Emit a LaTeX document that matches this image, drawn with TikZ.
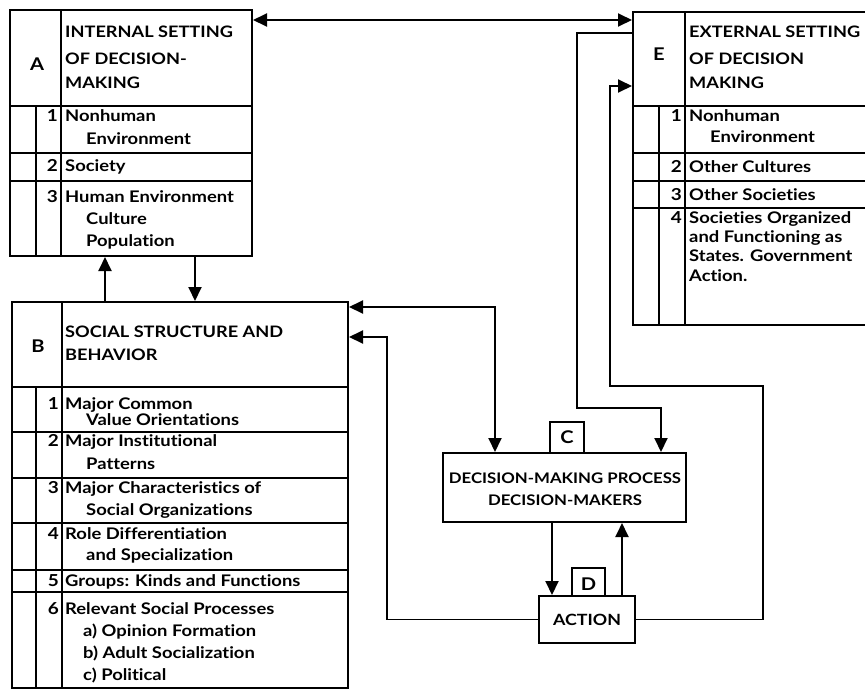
\documentclass[tikz,border=0pt]{standalone}
\usepackage{fontspec}
\setmainfont{Lato}[FakeStretch=1.15, Ligatures={NoCommon}]
\usetikzlibrary{arrows.meta,fit,calc}
\begin{document}
\begin{tikzpicture}[x=1pt,y=-1pt,
  frame/.style={draw, line width=2pt, inner sep=0pt},
  rule/.style={line width=1.6pt},
  conn/.style={line width=1.9pt},
  arr/.style={conn, -{Triangle[length=14pt,width=13pt]}},
  darr/.style={conn, {Triangle[length=14pt,width=13pt]}-{Triangle[length=14pt,width=13pt]}},
  txt/.style={anchor=mid west, yshift=-2.3pt, inner sep=0pt, font=\bfseries\fontsize{16}{18}\selectfont},
  hd/.style={anchor=mid west, yshift=-2.3pt, inner sep=0pt, font=\bfseries\fontsize{15.8}{18}\selectfont},
  num/.style={anchor=mid east, yshift=-2.3pt, inner sep=0pt, font=\bfseries\fontsize{16.5}{18}\selectfont},
  letter/.style={anchor=base, inner sep=0pt, font=\bfseries\fontsize{17.5}{19}\selectfont},
  ctr/.style={anchor=base, inner sep=0pt, font=\bfseries\fontsize{14.6}{16}\selectfont}]
\useasboundingbox (0,0) rectangle (865,689);
\clip (0,0) rectangle (865,689);
\fill[white] (0,0) rectangle (865,689);

% ---------- Box A ----------
\node[frame, fit={(10,10) (252,256)}] (A) {};
\draw[rule] (61,10) -- (61,256);
\draw[rule] (36,106) -- (36,256);
\foreach \y in {106,153,181} \draw[rule] (10,\y) -- (252,\y);
\node[letter] (Alab) at (37,70) {A};
\node[hd] (Ah1) at (65,33) {INTERNAL SETTING};
\node[hd] (Ah2) at (65,60) {OF DECISION-};
\node[hd] (Ah3) at (65,84) {MAKING};
\node[num] (An1) at (58,117) {1};
\node[txt] (At1) at (65,117) {Nonhuman};
\node[txt] (At1b) at (86,140) {Environment};
\node[num] (An2) at (58,167) {2};
\node[txt] (At2) at (65,167) {Society};
\node[num] (An3) at (58,198) {3};
\node[txt] (At3) at (65,198) {Human Environment};
\node[txt] (At3b) at (86,220) {Culture};
\node[txt] (At3c) at (86,242) {Population};

% ---------- Box B ----------
\node[frame, fit={(12,302) (348,688)}] (B) {};
\draw[rule] (62,302) -- (62,688);
\draw[rule] (36,387) -- (36,688);
\foreach \y in {387,432,478,523,570,592} \draw[rule] (12,\y) -- (348,\y);
\node[letter] (Blab) at (38,352) {B};
\node[hd] (Bh1) at (65,333) {SOCIAL STRUCTURE AND};
\node[hd] (Bh2) at (65,356) {BEHAVIOR};
\node[num] (Bn1) at (59,405) {1};
\node[txt] (Bt1) at (65,405) {Major Common};
\node[txt] (Bt1b) at (86,421) {Value Orientations};
\node[num] (Bn2) at (59,442) {2};
\node[txt] (Bt2) at (65,442) {Major Institutional};
\node[txt] (Bt2b) at (86,465) {Patterns};
\node[num] (Bn3) at (59,489) {3};
\node[txt] (Bt3) at (65,489) {Major Characteristics of};
\node[txt] (Bt3b) at (86,511) {Social Organizations};
\node[num] (Bn4) at (59,535) {4};
\node[txt] (Bt4) at (65,535) {Role Differentiation};
\node[txt] (Bt4b) at (86,556) {and Specialization};
\node[num] (Bn5) at (59,582) {5};
\node[txt] (Bt5) at (65,582) {Groups: Kinds and Functions};
\node[num] (Bn6) at (59,610) {6};
\node[txt] (Bt6) at (65,610) {Relevant Social Processes};
\node[txt] (Bt6a) at (83,632) {a) Opinion Formation};
\node[txt] (Bt6b) at (83,654) {b) Adult Socialization};
\node[txt] (Bt6c) at (83,676) {c) Political};

% ---------- Box E ----------
\node[frame, fit={(633,12) (885,325)}] (E) {};
\draw[rule] (685,12) -- (685,325);
\draw[rule] (659,106) -- (659,325);
\foreach \y in {106,153,181,208} \draw[rule] (633,\y) -- (885,\y);
\node[letter] (Elab) at (659,60) {E};
\node[hd] (Eh1) at (689,33) {EXTERNAL SETTING};
\node[hd] (Eh2) at (689,60) {OF DECISION};
\node[hd] (Eh3) at (689,84) {MAKING};
\node[num] (En1) at (682,117) {1};
\node[txt] (Et1) at (689,117) {Nonhuman};
\node[txt] (Et1b) at (710,138) {Environment};
\node[num] (En2) at (682,168) {2};
\node[txt] (Et2) at (689,168) {Other Cultures};
\node[num] (En3) at (682,196) {3};
\node[txt] (Et3) at (689,196) {Other Societies};
\node[num] (En4) at (682,219) {4};
\node[txt] (Et4) at (689,219) {Societies Organized};
\node[txt] (Et4b) at (689,238) {and Functioning as};
\node[txt] (Et4c) at (689,257) {States. Government};
\node[txt] (Et4d) at (689,277) {Action.};

% ---------- Box C ----------
\node[frame, fit={(443,453) (686,522)}] (C) {};
\node[ctr] (Ct1) at (565,483) {DECISION-MAKING PROCESS};
\node[ctr] (Ct2) at (565,505) {DECISION-MAKERS};
\node[frame, line width=1.6pt, fit={(550,422) (584,453)}] (Clab) {};
\node[letter] (Clet) at (567,443) {C};

% ---------- Box D (ACTION) ----------
\node[frame, fit={(539,596) (635,643)}] (D) {};
\node[ctr, font=\bfseries\fontsize{15.5}{17}\selectfont] (Dt) at (587,625) {ACTION};
\node[frame, line width=1.6pt, fit={(572,568) (605,596)}] (Dlab) {};
\node[letter] (Dlet) at (588.5,590) {D};

% ---------- Connectors ----------
\draw[darr] (A.east |- 0,20) -- (E.west |- 0,20);
\draw[arr] (B.north -| 105,0) -- (A.south -| 105,0);
\draw[arr] (A.south -| 195,0) -- (B.north -| 195,0);
\draw[darr] (B.east |- 0,307) -| (C.north -| 495,0);
\draw[arr] (E.west |- 0,33) -| (577,408) -| (C.north -| 661,0);
\draw[arr] (C.south -| 552,0) -- (D.north -| 552,0);
\draw[arr] (D.north -| 622,0) -- (C.south -| 622,0);
\draw[arr] (D.west) -| (387,337) -- (B.east |- 0,337);
\draw[arr] (D.east) -| (763,386) -| (610,86) -- (E.west |- 0,86);
\end{tikzpicture}
\end{document}
